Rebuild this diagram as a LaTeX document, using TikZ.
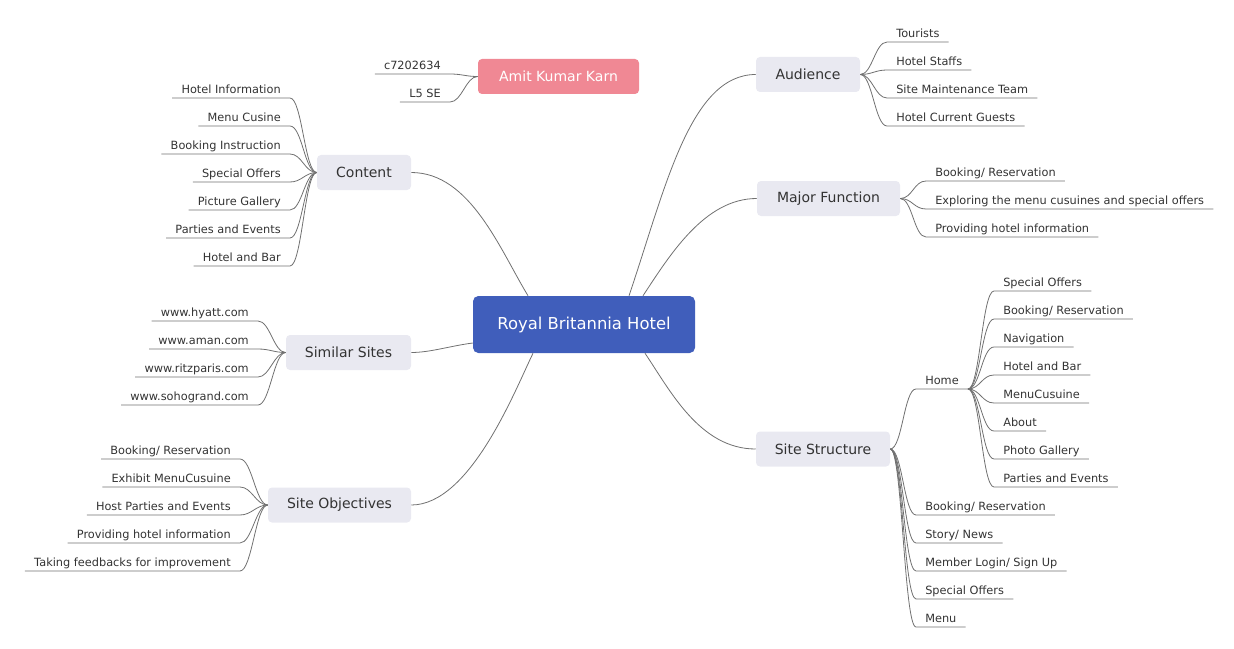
\documentclass[tikz,border=0pt]{standalone}
\usepackage{fontspec}
\setmainfont{DejaVu Sans}
\usetikzlibrary{calc}
\definecolor{linec}{HTML}{707070}
\definecolor{boxg}{HTML}{E9E9F1}
\definecolor{txtc}{HTML}{333333}
\definecolor{hubblue}{HTML}{405EBB}
\definecolor{pinkc}{HTML}{F08894}
\begin{document}
\begin{tikzpicture}[x=0.75pt,y=-0.75pt,
  hubbox/.style={fill=hubblue, rounded corners=4pt, text=white, font=\fontsize{12.3}{14}\selectfont, inner sep=0pt, minimum width=166.5pt, minimum height=42.75pt},
  pinkbox/.style={fill=pinkc, rounded corners=3pt, text=white, font=\fontsize{10.5}{12}\selectfont, inner sep=0pt, minimum height=26.25pt},
  branch/.style={fill=boxg, rounded corners=3pt, text=txtc, font=\fontsize{10.5}{12}\selectfont, inner sep=0pt, minimum height=26.25pt},
  leafr/.style={anchor=south west, text=txtc, font=\fontsize{8.5}{10}\selectfont, inner xsep=6.75pt, inner ysep=1pt, text height=6.5pt, text depth=2.5pt},
  leafl/.style={leafr, anchor=south east},
  conn/.style={draw=linec, line width=0.6pt},
  rc/.style={to path={.. controls +(12,0) and +(-12,0) .. (\tikztotarget)}},
  lc/.style={to path={.. controls +(-12,0) and +(12,0) .. (\tikztotarget)}},
]
\useasboundingbox (0,0) rectangle (1234,649);

% main nodes
\node[hubbox] (hub) at (584,324.5) {Royal Britannia Hotel};
\node[pinkbox, minimum width=120.75pt] (amit) at (558.5,76.5) {Amit Kumar Karn};
\node[branch, minimum width=78pt] (aud) at (808,74.5) {Audience};
\node[branch, minimum width=107.25pt] (maj) at (828.5,198.5) {Major Function};
\node[branch, minimum width=100.5pt] (sst) at (823,449) {Site Structure};
\node[branch, minimum width=70.5pt] (cnt) at (364,172.5) {Content};
\node[branch, minimum width=93.75pt] (sim) at (348.5,352.5) {Similar Sites};
\node[branch, minimum width=107.25pt] (obj) at (339.5,505) {Site Objectives};

% hub connectors
\draw[conn] ($(hub.north)+(45,0)$) .. controls +(36,-106) and +(-66,0) .. (aud.west);
\draw[conn] ($(hub.north)+(59,0)$) .. controls +(27,-41) and +(-52,0) .. (maj.west);
\draw[conn] ($(hub.south)+(61,0)$) .. controls +(25,37) and +(-56,0) .. (sst.west);
\draw[conn] ($(hub.north)+(-56,0)$) .. controls +(-28,-46) and +(59,0) .. (cnt.east);
\draw[conn] ($(hub.west)+(0,18.5)$) .. controls +(-23,3) and +(19,0) .. (sim.east);
\draw[conn] ($(hub.south)+(-51,0)$) .. controls +(-18,37) and +(59,0) .. (obj.east);

% Amit leaves
\node[leafl] (am1) at (450,74) {c7202634};
\node[leafl] (am2) at (450,102) {L5 SE};
\foreach \n in {am1,am2}
  \draw[conn] (amit.west) to[lc] (\n.south east) -- (\n.south west);

% Audience leaves
\node[leafr] (a1) at (887,42) {Tourists};
\node[leafr] (a2) at (887,70) {Hotel Staffs};
\node[leafr] (a3) at (887,98) {Site Maintenance Team};
\node[leafr] (a4) at (887,126) {Hotel Current Guests};
\foreach \n in {a1,a2,a3,a4}
  \draw[conn] (aud.east) to[rc] (\n.south west) -- (\n.south east);

% Major Function leaves
\node[leafr] (m1) at (926,181) {Booking/ Reservation};
\node[leafr] (m2) at (926,209) {Exploring the menu cusuines and special offers};
\node[leafr] (m3) at (926,237) {Providing hotel information};
\foreach \n in {m1,m2,m3}
  \draw[conn] (maj.east) to[rc] (\n.south west) -- (\n.south east);

% Site Structure leaves
\node[leafr] (home) at (916,389) {Home};
\node[leafr] (s1) at (916,515) {Booking/ Reservation};
\node[leafr] (s2) at (916,543) {Story/ News};
\node[leafr] (s3) at (916,571) {Member Login/ Sign Up};
\node[leafr] (s4) at (916,599) {Special Offers};
\node[leafr] (s5) at (916,627) {Menu};
\foreach \n in {home,s1,s2,s3,s4,s5}
  \draw[conn] (sst.east) to[rc] (\n.south west) -- (\n.south east);

% Home leaves
\node[leafr] (h1) at (994,291) {Special Offers};
\node[leafr] (h2) at (994,319) {Booking/ Reservation};
\node[leafr] (h3) at (994,347) {Navigation};
\node[leafr] (h4) at (994,375) {Hotel and Bar};
\node[leafr] (h5) at (994,403) {MenuCusuine};
\node[leafr] (h6) at (994,431) {About};
\node[leafr] (h7) at (994,459) {Photo Gallery};
\node[leafr] (h8) at (994,487) {Parties and Events};
\foreach \n in {h1,h2,h3,h4,h5,h6,h7,h8}
  \draw[conn] (home.south east) to[rc] (\n.south west) -- (\n.south east);

% Content leaves
\node[leafl] (c1) at (290,98) {Hotel Information};
\node[leafl] (c2) at (290,126) {Menu Cusine};
\node[leafl] (c3) at (290,154) {Booking Instruction};
\node[leafl] (c4) at (290,182) {Special Offers};
\node[leafl] (c5) at (290,210) {Picture Gallery};
\node[leafl] (c6) at (290,238) {Parties and Events};
\node[leafl] (c7) at (290,266) {Hotel and Bar};
\foreach \n in {c1,c2,c3,c4,c5,c6,c7}
  \draw[conn] (cnt.west) to[lc] (\n.south east) -- (\n.south west);

% Similar Sites leaves
\node[leafl] (w1) at (258,321) {www.hyatt.com};
\node[leafl] (w2) at (258,349) {www.aman.com};
\node[leafl] (w3) at (258,377) {www.ritzparis.com};
\node[leafl] (w4) at (258,405) {www.sohogrand.com};
\foreach \n in {w1,w2,w3,w4}
  \draw[conn] (sim.west) to[lc] (\n.south east) -- (\n.south west);

% Site Objectives leaves
\node[leafl] (o1) at (240,459) {Booking/ Reservation};
\node[leafl] (o2) at (240,487) {Exhibit MenuCusuine};
\node[leafl] (o3) at (240,515) {Host Parties and Events};
\node[leafl] (o4) at (240,543) {Providing hotel information};
\node[leafl] (o5) at (240,571) {Taking feedbacks for improvement};
\foreach \n in {o1,o2,o3,o4,o5}
  \draw[conn] (obj.west) to[lc] (\n.south east) -- (\n.south west);
\end{tikzpicture}
\end{document}
